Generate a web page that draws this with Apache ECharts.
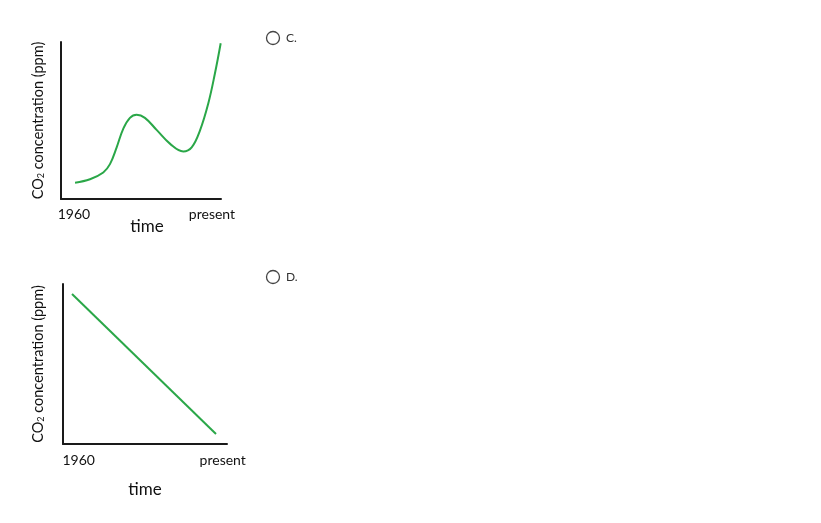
<!DOCTYPE html>
<html>
<head>
    <meta charset="utf-8">
    <title>CO2 concentration</title>
    <script src="https://cdn.jsdelivr.net/npm/echarts@6/dist/echarts.min.js"></script>
</head>
<body style="margin:0;background-color:white">
<div id="main" style="width: 821px;height:523px;"></div>
<script type="text/javascript">
    // 曲线 C. (时间 0..100, 浓度 0..100)
    var curveTime = [9.0, 18.6, 27.1, 31.4, 35.7, 39.9, 44.2, 48.5, 53.8, 61.3, 70.0, 78.4, 83.8, 89.1, 94.4, 98.7, 102.4];
    var curveCO2  = [10.4, 12.6, 16.9, 22.2, 32.9, 44.7, 51.7, 53.7, 51.7, 44.0, 35.1, 30.3, 32.9, 43.6, 60.7, 79.9, 99.2];
    // 直线 D.
    var lineTime = [5.5, 93.3];
    var lineCO2  = [93.8, 6.2];
    // x 轴标签
    var tickLabels = ['1960', 'present'];
    var tickPos1 = [8.3, 96.8];
    var tickPos2 = [9.6, 97.4];
    var options = ['C.', 'D.'];

    var font = 'Lato, "Open Sans", sans-serif';
    var green = '#2aa748';
    var axisColor = '#1a1a1a';

    function xAxisOf(gridIndex, max, ticks, margin, gap, shift) {
        return {
            type: 'value', gridIndex: gridIndex, min: 0, max: max,
            name: 'time', nameLocation: 'middle', nameGap: gap, nameMoveOverlap: false,
            nameTextStyle: {fontFamily: font, fontSize: 17, color: '#111', padding: [0, 0, 0, shift]},
            axisLine: {show: true, lineStyle: {color: axisColor, width: 2}},
            axisTick: {show: false},
            splitLine: {show: false},
            axisLabel: {
                customValues: ticks, margin: margin,
                fontFamily: font, fontSize: 14, color: '#111',
                formatter: function (v) { return tickLabels[ticks.indexOf(v)]; }
            }
        };
    }
    function yAxisOf(gridIndex, gap) {
        return {
            type: 'value', gridIndex: gridIndex, min: 0, max: 100,
            name: '{c|CO}{s|2}{c| concentration (ppm)}', nameLocation: 'middle', nameGap: gap,
            nameRotate: 90,
            nameTextStyle: {
                rich: {
                    c: {fontFamily: font, fontSize: 14.5, color: '#111'},
                    s: {fontFamily: font, fontSize: 9, color: '#111', verticalAlign: 'bottom', padding: [5, 0, 0, 0]}
                }
            },
            axisLine: {show: true, lineStyle: {color: axisColor, width: 2}},
            axisTick: {show: false},
            axisLabel: {show: false},
            splitLine: {show: false}
        };
    }

    var myChart = echarts.init(document.getElementById('main'));
    myChart.setOption({
        backgroundColor: 'white',
        animation: false,
        grid: [
            {left: 61, top: 42, width: 160, height: 157},
            {left: 63, top: 284, width: 164, height: 160}
        ],
        xAxis: [xAxisOf(0, 102.6, tickPos1, 8, 19, 12), xAxisOf(1, 100, tickPos2, 9, 37, 0)],
        yAxis: [yAxisOf(0, 15), yAxisOf(1, 17)],
        series: [
            {
                type: 'line', xAxisIndex: 0, yAxisIndex: 0,
                data: curveTime.map(function (t, i) { return [t, curveCO2[i]]; }),
                smooth: 0.4, showSymbol: false, clip: false,
                lineStyle: {color: green, width: 2}
            },
            {
                type: 'line', xAxisIndex: 1, yAxisIndex: 1,
                data: lineTime.map(function (t, i) { return [t, lineCO2[i]]; }),
                showSymbol: false, clip: false,
                lineStyle: {color: green, width: 2}
            }
        ],
        graphic: [
            {type: 'circle', shape: {cx: 273, cy: 38, r: 6.5}, style: {fill: 'none', stroke: '#444', lineWidth: 1.3}},
            {type: 'text', x: 286, y: 38, style: {text: options[0], fontFamily: font, fontSize: 12, fill: '#333', verticalAlign: 'middle'}},
            {type: 'circle', shape: {cx: 273, cy: 277, r: 6.5}, style: {fill: 'none', stroke: '#444', lineWidth: 1.3}},
            {type: 'text', x: 286, y: 277, style: {text: options[1], fontFamily: font, fontSize: 12, fill: '#333', verticalAlign: 'middle'}}
        ]
    });
</script>
</body>
</html>
